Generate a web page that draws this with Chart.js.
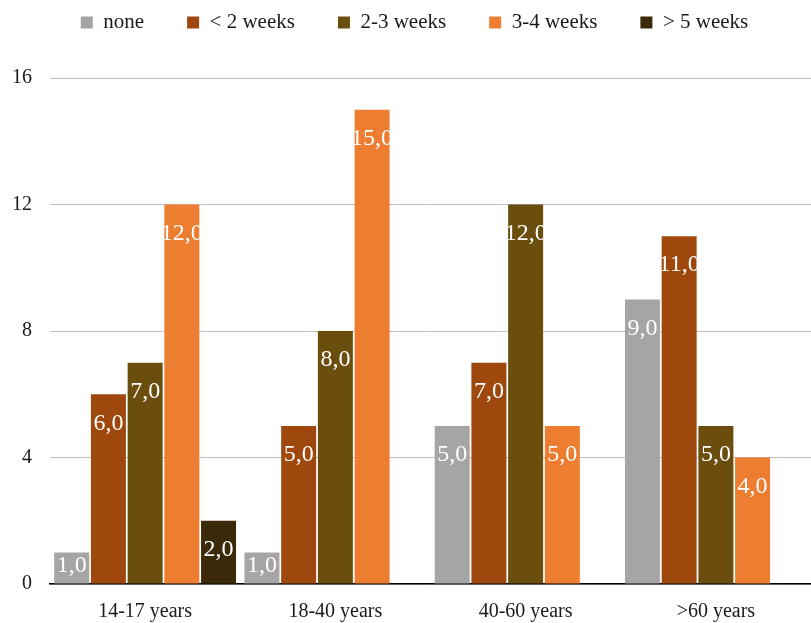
<!DOCTYPE html>
<html>
<head>
<meta charset="utf-8">
<script src="https://cdn.jsdelivr.net/npm/chart.js@4/dist/chart.umd.min.js"></script>
<style>
  html, body { margin: 0; padding: 0; background: #fff; }
  #wrap { width: 811px; height: 623px; }
</style>
</head>
<body>
<div id="wrap"><canvas id="chart-bars"></canvas></div>
<script>
var categories = ["14-17 years", "18-40 years", "40-60 years", ">60 years"];
var seriesNames = ["none", "< 2 weeks", "2-3 weeks", "3-4 weeks", "> 5 weeks"];
var noneVals = [1, 1, 5, 9];
var under2Vals = [6, 5, 7, 11];
var w23Vals = [7, 8, 12, 5];
var w34Vals = [12, 15, 5, 4];
var over5Vals = [2, null, null, null];
var yTicks = [0, 4, 8, 12, 16];

var colors = ["#a5a5a5", "#9e480e", "#6b4d0e", "#ed7d31", "#3a2a09"];
var allVals = [noneVals, under2Vals, w23Vals, w34Vals, over5Vals];

var serif = "'Liberation Serif', 'Times New Roman', serif";

// white value labels at the top inside each bar, clipped to the bar
var barLabels = {
    id: "barLabels",
    afterDatasetsDraw(chart) {
        var ctx = chart.ctx;
        chart.data.datasets.forEach(function(ds, i) {
            var meta = chart.getDatasetMeta(i);
            meta.data.forEach(function(bar, j) {
                var v = ds.data[j];
                if (v === null || v === undefined) return;
                var p = bar.getProps(["x", "y", "base", "width"], true);
                var left = p.x - p.width / 2;
                var top = p.y;
                var h = p.base - p.y;
                ctx.save();
                ctx.beginPath();
                ctx.rect(left, top, p.width, h);
                ctx.clip();
                ctx.fillStyle = "#fff";
                ctx.font = "24px " + serif;
                ctx.textAlign = "center";
                ctx.textBaseline = "middle";
                var cy = Math.min(top + 29, (top + p.base) / 2 - 2);
                ctx.fillText(v.toFixed(1).replace(".", ","), p.x, cy);
                ctx.restore();
            });
        });
    }
};

// legend: fixed height, drawn higher up than its padding would put it
var legendFix = {
    id: "legendFix",
    beforeInit(chart) {
        const originalFit = chart.legend.fit;
        chart.legend.fit = function fit() {
            originalFit.bind(chart.legend)();
            this.height = 78;
        };
        const originalDraw = chart.legend.draw;
        chart.legend.draw = function draw() {
            chart.ctx.save();
            chart.ctx.translate(9, -31);
            originalDraw.apply(chart.legend, arguments);
            chart.ctx.restore();
        };
    }
};

var ctx = document.getElementById("chart-bars").getContext("2d");

new Chart(ctx, {
    type: "bar",
    plugins: [barLabels, legendFix],
    data: {
        labels: categories,
        datasets: seriesNames.map(function(name, i) {
            return {
                label: name,
                data: allVals[i],
                backgroundColor: colors[i],
                borderWidth: 0,
                categoryPercentage: 0.965,
                barPercentage: 0.953
            };
        }),
    },
    options: {
        responsive: true,
        maintainAspectRatio: false,
        animation: false,
        layout: {
            padding: { top: 0, right: 0, bottom: 0, left: 0 }
        },
        plugins: {
            legend: {
                display: true,
                position: "top",
                align: "center",
                labels: {
                    boxWidth: 12,
                    boxHeight: 12,
                    padding: 43,
                    color: "#1a1a1a",
                    font: { size: 21, family: serif }
                }
            },
            tooltip: { enabled: false }
        },
        scales: {
            y: {
                min: 0,
                max: 16,
                afterFit: function(s) { s.width = 50; },
                afterBuildTicks: function(s) {
                    s.ticks = yTicks.map(function(v) { return { value: v }; });
                },
                grid: {
                    color: "#c0c0c0",
                    lineWidth: 1,
                    drawTicks: false
                },
                border: { display: false },
                ticks: {
                    padding: 18,
                    color: "#1a1a1a",
                    font: { size: 20, family: serif }
                }
            },
            x: {
                afterFit: function(s) { s.height = 39; },
                grid: { display: false, drawTicks: false },
                border: { display: true, color: "#000", width: 1.5 },
                ticks: {
                    padding: 16,
                    color: "#1a1a1a",
                    font: { size: 20, family: serif }
                }
            }
        }
    }
});
</script>
</body>
</html>
